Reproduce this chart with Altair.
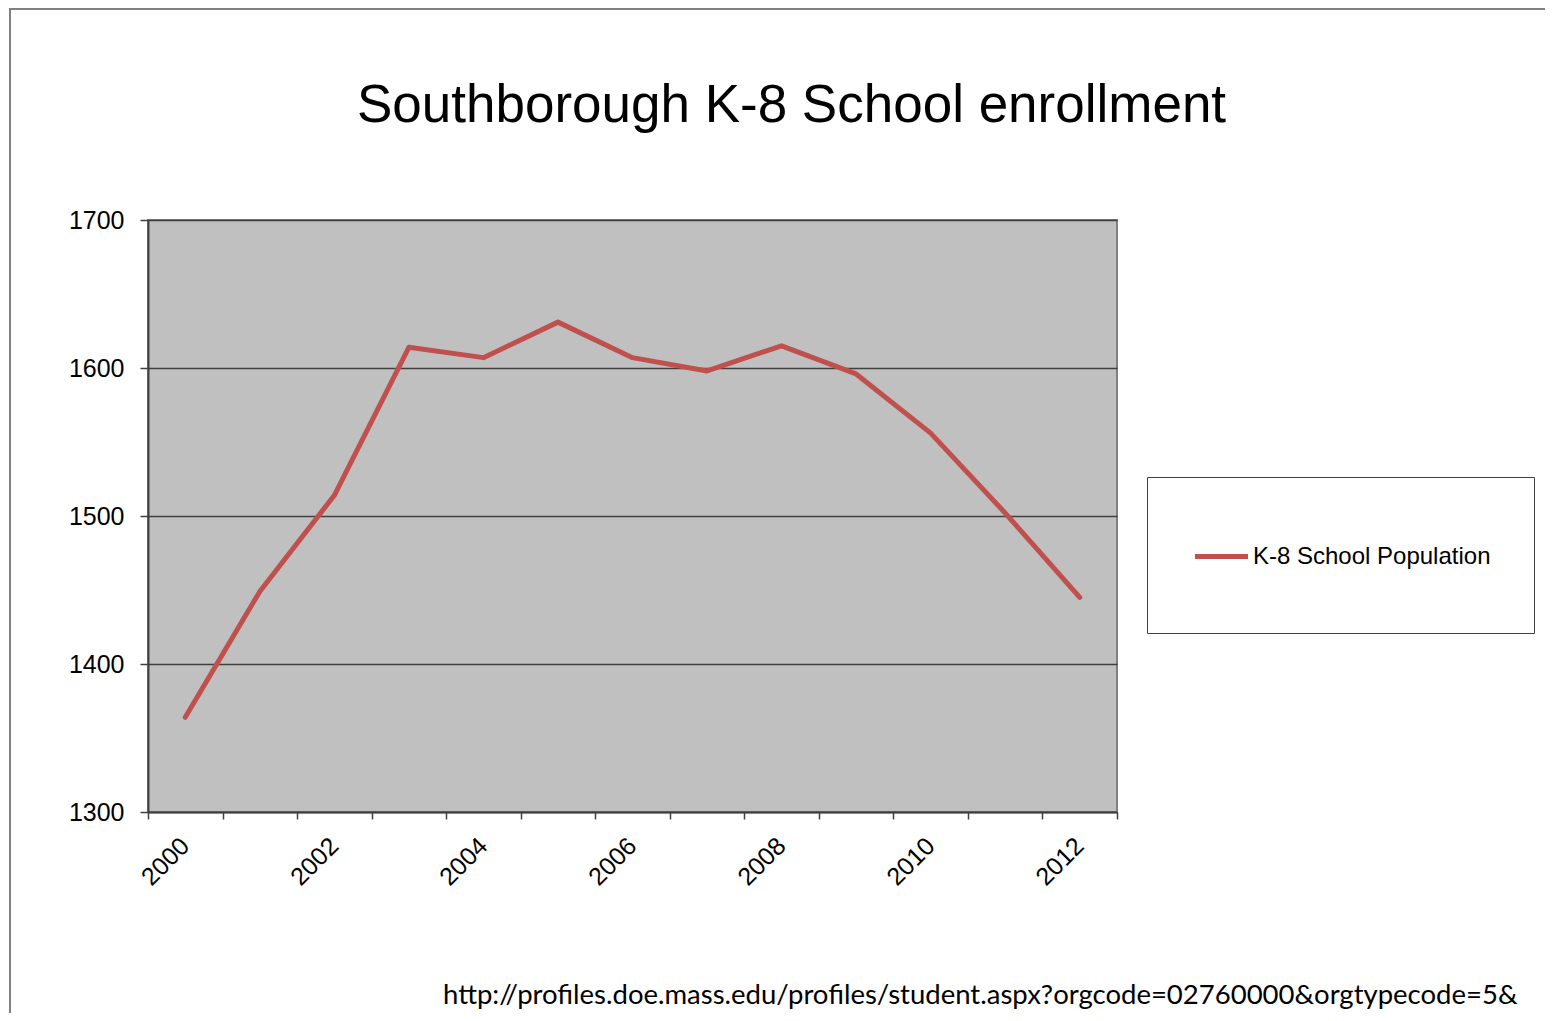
import altair as alt
import pandas as pd

# ---- data ----
years = [2000, 2001, 2002, 2003, 2004, 2005, 2006, 2007, 2008, 2009, 2010, 2011, 2012]
enrollment = [1364, 1449, 1514, 1614, 1607, 1631, 1607, 1598, 1615, 1596, 1556, 1502, 1445]
series_name = "K-8 School Population"
y_ticks = [1300, 1400, 1500, 1600, 1700]
title_text = "Southborough K-8 School enrollment"
source_text = "http://profiles.doe.mass.edu/profiles/student.aspx?orgcode=02760000&orgtypecode=5&"

df = pd.DataFrame({
    "year": years,
    "enrollment": enrollment,
    "series": [series_name] * len(years),
})

W, H = 969, 592
PAD = {"left": 140, "top": 212, "right": 428, "bottom": 201}

x_enc = alt.X(
    "year:O",
    scale=alt.Scale(type="band", paddingInner=0, paddingOuter=0),
    axis=alt.Axis(
        title=source_text,
        titleFont="Lato",
        titleFontSize=27.5,
        titleFontWeight="normal",
        titleColor="black",
        titleX=1369,
        titleY=183,
        titleAlign="right",
        titleBaseline="middle",
        labelAngle=-45,
        labelExpr="datum.value % 2 == 0 ? datum.label : ''",
        labelFont="Liberation Sans",
        labelFontSize=25,
        labelColor="black",
        labelPadding=14,
        labelOffset=-9,
        labelOverlap=False,
        tickBand="extent",
        tickSize=7,
        tickColor="#404040",
        tickWidth=1.5,
        domainColor="#404040",
        domainWidth=2,
        grid=False,
    ),
)

y_enc = alt.Y(
    "enrollment:Q",
    scale=alt.Scale(domain=[1300, 1700], nice=False, zero=False),
    axis=alt.Axis(
        title=None,
        values=y_ticks,
        format="d",
        labelFont="Liberation Sans",
        labelFontSize=25,
        labelColor="black",
        labelPadding=16,
        tickSize=8,
        tickColor="#404040",
        tickWidth=1.5,
        domainColor="#404040",
        domainWidth=2,
        grid=True,
        gridColor="#404040",
        gridWidth=1.5,
    ),
)

color_enc = alt.Color(
    "series:N",
    scale=alt.Scale(range=["#C0504D"]),
    legend=alt.Legend(
        orient="none",
        legendX=999,
        legendY=257,
        title=None,
        symbolType="M-0.926,0H0.632M0,0.68",
        symbolSize=4624,
        symbolStrokeWidth=5,
        labelFont="Liberation Sans",
        labelFontSize=24,
        labelColor="black",
        labelOffset={"expr": "-10"},
        labelLimit=600,
        strokeColor="#404040",
        fillColor="white",
        padding=43,
    ),
)

line = alt.Chart(df).mark_line(
    strokeWidth=5, strokeCap="round", strokeJoin="round"
).encode(x=x_enc, y=y_enc, color=color_enc)

frame = alt.Chart(pd.DataFrame({"k": [0]})).mark_rect(
    fillOpacity=0, stroke="#808080", strokeWidth=2, clip=False
).encode(
    x=alt.value(-138), x2=alt.value(W + 460),
    y=alt.value(-211), y2=alt.value(H + 260),
)

chart = alt.layer(frame, line).properties(
    width=W,
    height=H,
    title=alt.TitleParams(
        text=title_text,
        font="Liberation Sans",
        fontSize=53,
        fontWeight="normal",
        color="black",
        anchor="middle",
        dx=159,
        offset=-125,
    ),
    autosize=alt.AutoSizeParams(type="none"),
    padding=PAD,
    background="white",
).configure_view(
    fill="#C0C0C0", stroke="#808080", strokeWidth=2
)

chart.save("out.html", embed_options={"renderer": "svg", "actions": False})
